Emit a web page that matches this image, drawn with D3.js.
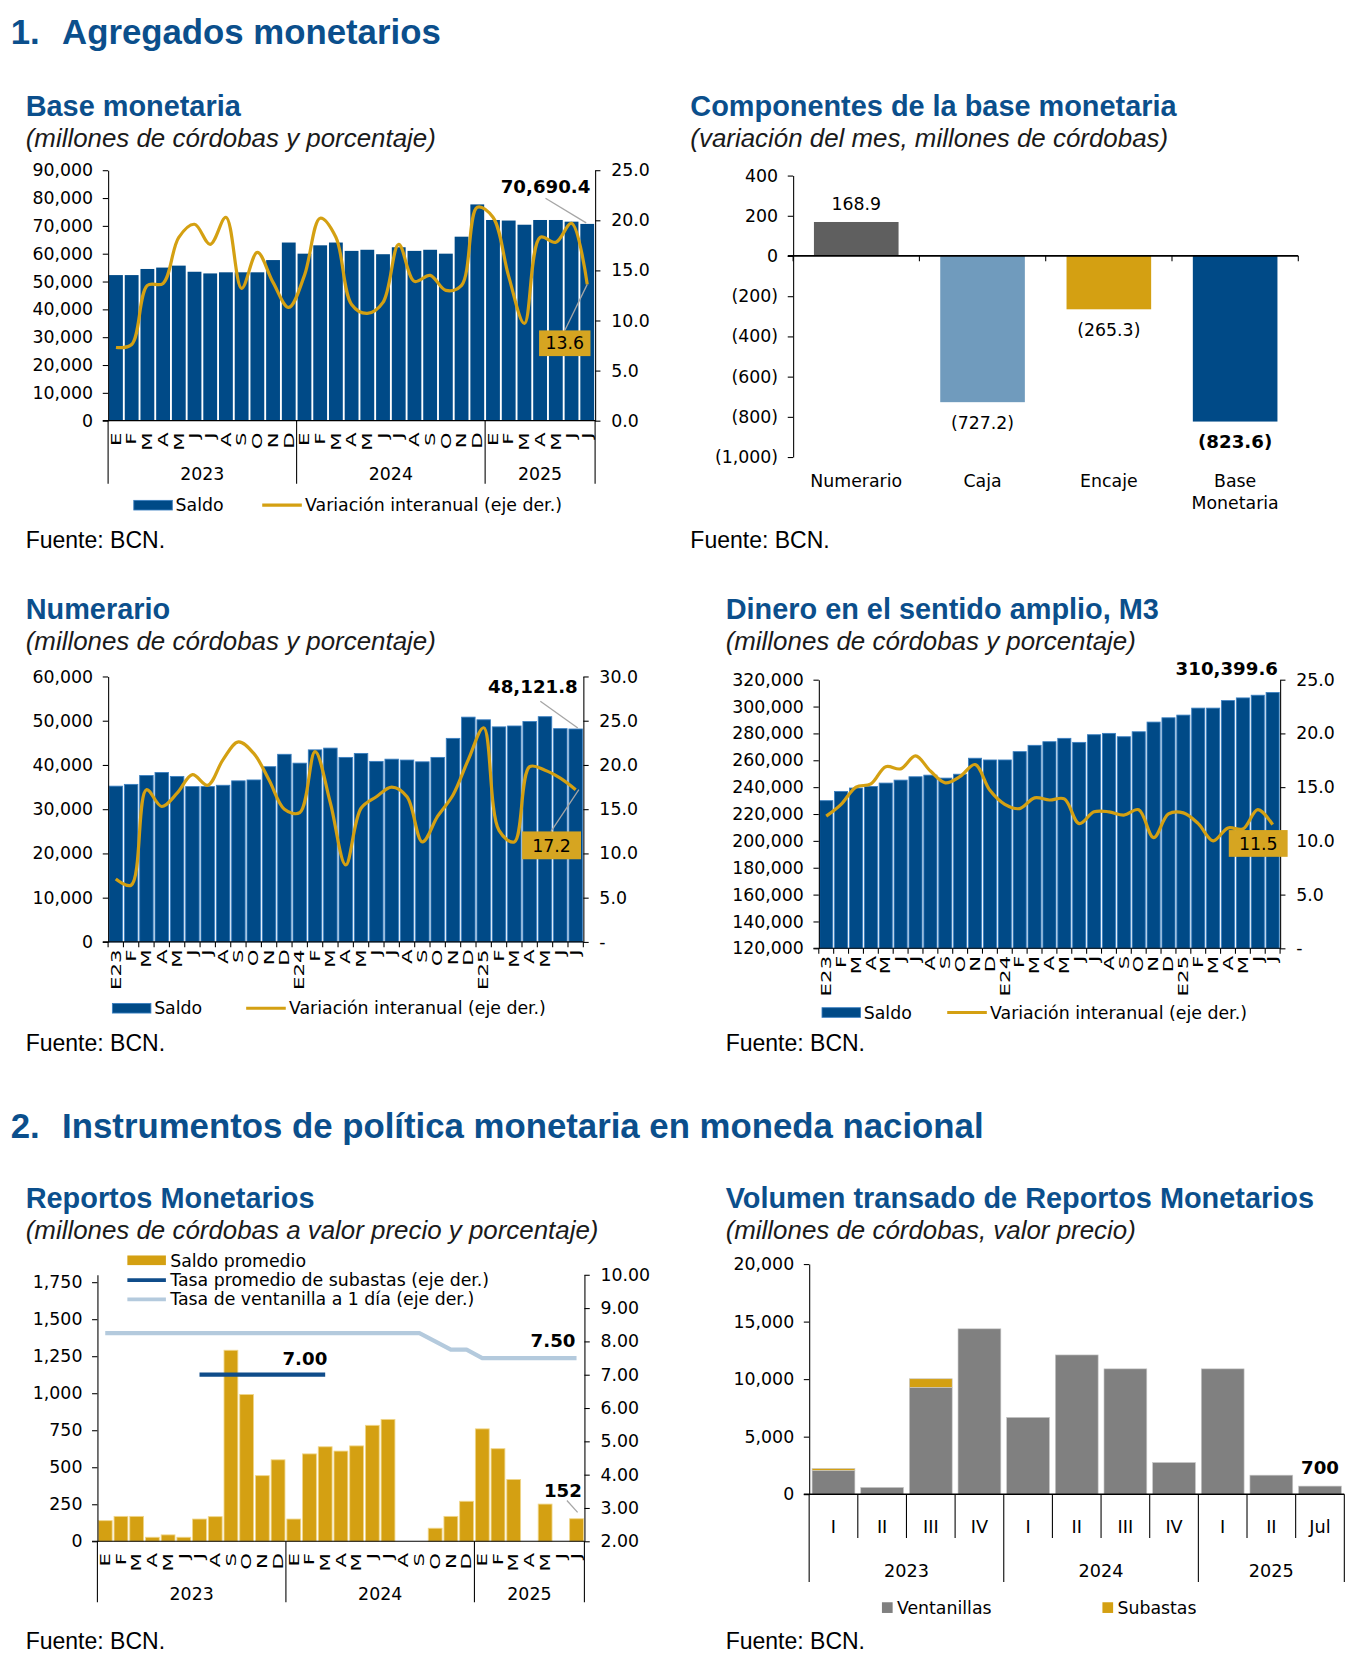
<!DOCTYPE html>
<html>
<head>
<meta charset="utf-8">
<script src="https://cdn.jsdelivr.net/npm/d3@7"></script>
<style>body{margin:0;background:#fff}</style>
</head>
<body>
<script>
// ---------- datos ----------
const meses = ["E","F","M","A","M","J","J","A","S","O","N","D"];
const anios = ["2023","2024","2025"];
const mesesPorAnio = [12, 12, 7];

// Base monetaria
const baseSaldo = [52300,52300,54500,55000,55700,53500,52900,53300,53300,53300,57700,64000,
                   60000,63000,64000,61000,61400,59800,62300,61000,61400,60000,66100,77700,
                   72100,71900,70400,72100,72100,71500,70690.4];
const baseVariacion = [7.3,7.6,13.5,13.7,18.3,19.6,17.6,20.3,13.2,16.8,13.8,11.3,
                       14.5,20.2,18.3,11.6,10.7,11.8,17.6,13.9,14.5,13.0,13.5,21.3,
                       20.3,14.4,9.7,18.3,17.8,19.7,13.6];

// Componentes de la base monetaria
const compCategorias = ["Numerario","Caja","Encaje","Base Monetaria"];
const compValores = [168.9, -727.2, -265.3, -823.6];
const compColores = ["#5f5f5f","#709bbd","#d4a012","#004a87"];

// Numerario
const numSaldo = [35200,35600,37600,38300,37400,35100,35100,35400,36400,36600,39600,42400,
                  40400,43400,43800,41700,42600,40800,41300,41100,40700,41700,46000,50800,
                  50200,48600,48800,49800,50900,48200,48121.8];
const numVariacion = [7.1,6.4,17.2,15.3,16.8,18.9,17.7,20.6,22.6,21.3,18.3,15.0,
                      14.6,21.5,15.7,8.7,15.1,16.4,17.5,16.4,11.3,14.2,16.6,20.6,
                      24.2,12.6,11.3,19.8,19.4,18.5,17.2];

// M3
const m3Saldo = [229900,236800,239300,240500,243000,245200,247700,248900,246700,249600,261500,260200,
                 260200,266400,271100,273800,276300,273300,279000,280000,277500,281200,288400,291600,
                 293600,298800,298800,304400,306400,308400,310399.6];
const m3Variacion = [12.3,13.4,15.0,15.3,16.9,16.7,17.9,16.5,15.4,16.0,17.1,14.7,
                     13.4,13.0,14.0,13.8,13.9,11.6,12.7,12.7,12.4,12.9,10.3,12.5,
                     12.6,11.6,10.0,11.2,11.1,12.9,11.5];

// Reportos monetarios
const repSaldo = [139,168,168,27,43,27,150,166,1290,991,443,550,
                  150,590,638,609,644,783,823,null,null,88,168,270,
                  759,625,417,null,251,null,152];
const repSubastas = [null,null,null,null,null,null,7.00,7.00,7.00,7.00,7.00,7.00,
                     7.00,7.00,7.00,null,null,null,null,null,null,null,null,null,
                     null,null,null,null,null,null,null];
const repVentanilla = [8.25,8.25,8.25,8.25,8.25,8.25,8.25,8.25,8.25,8.25,8.25,8.25,
                       8.25,8.25,8.25,8.25,8.25,8.25,8.25,8.25,8.25,8.00,7.75,7.75,
                       7.50,7.50,7.50,7.50,7.50,7.50,7.50];

// Volumen transado
const volCategorias = ["I","II","III","IV","I","II","III","IV","I","II","Jul"];
const volAnios = ["2023","2024","2025"];
const volPorAnio = [4, 4, 3];
const volVentanillas = [2060,585,9280,14370,6670,12100,10890,2750,10890,1650,700];
const volSubastas = [170,0,750,0,0,0,0,0,0,0,0];

// ---------- estilos ----------
const FT = "'Liberation Sans', Arial, sans-serif";
const FC = "'DejaVu Sans', Verdana, sans-serif";
const AZUL_T = "#0b4f8c";
const AZUL = "#004a87";
const ORO = "#d4a012";
const GRIS = "#808080";
const FS = 16.2; // texto de los graficos

const W = 1280, H = 1280 * 1677 / 1370;
const svg = d3.select("body").append("svg")
    .attr("width", 1370).attr("height", 1677)
    .attr("viewBox", `0 0 ${W} ${H}`)
    .attr("font-family", FC).attr("font-size", FS);

function encabezado(y, num, txt) {
    svg.append("text").attr("x", 10).attr("y", y).attr("font-family", FT).attr("font-weight", "bold")
        .attr("font-size", 32.5).attr("fill", AZUL_T).text(num);
    svg.append("text").attr("x", 58).attr("y", y).attr("font-family", FT).attr("font-weight", "bold")
        .attr("font-size", 32.5).attr("fill", AZUL_T).text(txt);
}

function titulo(x, y, t, s) {
    svg.append("text").attr("x", x).attr("y", y).attr("font-family", FT).attr("font-weight", "bold")
        .attr("font-size", 27).attr("fill", AZUL_T).text(t);
    svg.append("text").attr("x", x).attr("y", y + 29).attr("font-family", FT).attr("font-style", "italic")
        .attr("font-size", 24.2).attr("fill", "#1a1a1a").text(s);
}

function fuente(x, y) {
    svg.append("text").attr("x", x).attr("y", y).attr("font-family", FT)
        .attr("font-size", 21.5).attr("fill", "#000").text("Fuente: BCN.");
}

function estiloEje(e) {
    e.attr("font-family", FC).attr("font-size", FS);
    e.selectAll("text").attr("fill", "#000");
    e.selectAll("path, line").attr("stroke", "#000");
}

// grafico mensual de barras + lineas con dos ejes
function graficoMensual(o) {
    const g = svg.append("g");
    const n = o.barras.length;
    const x = d3.scaleBand().domain(d3.range(n)).range([o.xL, o.xR]).paddingInner(0.12).paddingOuter(0.06);
    const yL = d3.scaleLinear().domain(o.izq).range([o.yB, o.yT]);
    const yR = d3.scaleLinear().domain(o.der).range([o.yB, o.yT]);
    const cx = i => x(i) + x.bandwidth() / 2;
    const borde = i => i === 0 ? o.xL : i === n ? o.xR : x(i) - (x.step() - x.bandwidth()) / 2;

    // barras
    g.selectAll("rect.barra")
        .data(o.barras.map((v, i) => ({ v, i })).filter(d => d.v))
        .join("rect")
        .attr("class", "barra")
        .attr("x", d => x(d.i)).attr("width", x.bandwidth())
        .attr("y", d => yL(d.v)).attr("height", d => yL(o.izq[0]) - yL(d.v))
        .attr("fill", o.colorBarra)
        .attr("stroke", o.bordeBarra || "none").attr("stroke-width", 0.8);

    // ejes
    const ejeIzq = g.append("g").attr("transform", `translate(${o.xL},0)`)
        .call(d3.axisLeft(yL).tickValues(o.ticksIzq).tickFormat(o.fmtIzq).tickSize(5).tickSizeOuter(0).tickPadding(9));
    const ejeDer = g.append("g").attr("transform", `translate(${o.xR},0)`)
        .call(d3.axisRight(yR).tickValues(o.ticksDer).tickFormat(o.fmtDer).tickSize(5).tickSizeOuter(0).tickPadding(10));
    estiloEje(ejeIzq);
    estiloEje(ejeDer);
    g.append("line").attr("x1", o.xL - 5).attr("x2", o.xR).attr("y1", o.yB).attr("y2", o.yB).attr("stroke", "#000");

    // lineas
    o.lineas.forEach(l => {
        g.append("path").datum(l.datos)
            .attr("d", d3.line().defined(v => v != null).x((v, i) => cx(i)).y(v => yR(v)).curve(l.curva))
            .attr("fill", "none").attr("stroke", l.color).attr("stroke-width", l.ancho)
            .attr("stroke-linejoin", "round");
    });

    // etiquetas de meses (texto vertical, estirado como en el original)
    g.selectAll("text.mes").data(o.etiquetas).join("text")
        .attr("class", "mes")
        .attr("transform", (d, i) => `translate(${cx(i)},${o.yB + o.mesDy}) rotate(-90) scale(1.62,1)`)
        .attr("text-anchor", "end").attr("dy", "0.36em").attr("font-size", 12.3)
        .text(d => d);

    if (o.separadores) {
        const cortes = [0];
        mesesPorAnio.forEach(m => cortes.push(cortes[cortes.length - 1] + m));
        cortes.forEach(c => g.append("line")
            .attr("x1", borde(c)).attr("x2", borde(c))
            .attr("y1", o.yB).attr("y2", o.yB + o.sepLargo).attr("stroke", "#000"));
        anios.forEach((a, k) => g.append("text")
            .attr("x", (borde(cortes[k]) + borde(cortes[k + 1])) / 2)
            .attr("y", o.yB + o.anioDy).attr("text-anchor", "middle").text(a));
    } else {
        d3.range(n + 1).forEach(i => g.append("line")
            .attr("x1", borde(i)).attr("x2", borde(i))
            .attr("y1", o.yB).attr("y2", o.yB + 5).attr("stroke", "#000"));
    }

    if (o.extra) o.extra(g, { x, yL, yR, cx, n });
}

function leyendaSaldo(g, x, y, xLinea) {
    g.append("rect").attr("x", x).attr("y", y - 4.5).attr("width", 36).attr("height", 9).attr("fill", AZUL)
        .attr("stroke", "#3a7fc0").attr("stroke-width", 0.8);
    g.append("text").attr("x", x + 39).attr("y", y).attr("dy", "0.35em").text("Saldo");
    g.append("line").attr("x1", xLinea).attr("x2", xLinea + 37).attr("y1", y).attr("y2", y)
        .attr("stroke", ORO).attr("stroke-width", 3);
    g.append("text").attr("x", xLinea + 40).attr("y", y).attr("dy", "0.35em")
        .text("Variación interanual (eje der.)");
}

function caja(g, x, y, w, h, t) {
    g.append("rect").attr("x", x).attr("y", y).attr("width", w).attr("height", h).attr("fill", "#d6a521");
    g.append("text").attr("x", x + w / 2).attr("y", y + h / 2).attr("dy", "0.36em")
        .attr("text-anchor", "middle").text(t);
}

const fmtMiles = d3.format(",");
const fmtUno = d3.format(".1f");
const fmtGuion = v => v === 0 ? "-" : fmtUno(v);
const etiquetasSimples = meses.concat(meses, meses.slice(0, 7));
const etiquetasAnio = etiquetasSimples.map((m, i) => i === 0 ? "E23" : i === 12 ? "E24" : i === 24 ? "E25" : m);

// ---------- 1. Agregados monetarios ----------
encabezado(41, "1.", "Agregados monetarios");

// Base monetaria
titulo(24, 108, "Base monetaria", "(millones de córdobas y porcentaje)");
graficoMensual({
    xL: 101, xR: 556, yT: 159, yB: 393,
    barras: baseSaldo, colorBarra: AZUL,
    izq: [0, 90000], ticksIzq: d3.range(0, 90001, 10000), fmtIzq: fmtMiles,
    der: [0, 25], ticksDer: d3.range(0, 26, 5), fmtDer: fmtUno,
    lineas: [{ datos: baseVariacion, color: ORO, ancho: 3, curva: d3.curveCatmullRom.alpha(0.5) }],
    etiquetas: etiquetasSimples, mesDy: 11,
    separadores: true, sepLargo: 59, anioDy: 55,
    extra: (g, s) => {
        const i = s.n - 1;
        const xb = s.cx(i), yb = s.yL(baseSaldo[i]);
        g.append("line").attr("x1", xb - 39).attr("y1", yb - 24).attr("x2", xb - 1).attr("y2", yb - 1)
            .attr("stroke", "#a6a6a6").attr("stroke-width", 1.2);
        g.append("text").attr("x", xb + 3).attr("y", yb - 29).attr("text-anchor", "end")
            .attr("font-weight", "bold").attr("font-size", 17).text(d3.format(",.1f")(baseSaldo[i]));
        const yv = s.yR(baseVariacion[i]);
        g.append("line").attr("x1", xb - 21).attr("y1", yv + 43).attr("x2", xb).attr("y2", yv)
            .attr("stroke", "#a6a6a6").attr("stroke-width", 1.2);
        caja(g, xb - 45, yv + 43, 48, 24, fmtUno(baseVariacion[i]));
        leyendaSaldo(g, 125, 472, 245);
    }
});
fuente(24, 512);

// Componentes de la base monetaria
titulo(645, 108, "Componentes de la base monetaria", "(variación del mes, millones de córdobas)");
(function () {
    const g = svg.append("g");
    const xL = 741, xR = 1213, yT = 164, yB = 427;
    const y = d3.scaleLinear().domain([-1000, 400]).range([yB, yT]);
    const x = d3.scaleBand().domain(compCategorias).range([xL, xR]).paddingInner(0.33).paddingOuter(0.165);
    const fmt = v => v < 0 ? `(${d3.format(",")(-v)})` : d3.format(",")(v);
    const fmtV = v => v < 0 ? `(${d3.format(",.1f")(-v)})` : d3.format(",.1f")(v);

    g.selectAll("rect").data(compValores).join("rect")
        .attr("x", (d, i) => x(compCategorias[i])).attr("width", x.bandwidth())
        .attr("y", d => Math.min(y(d), y(0))).attr("height", d => Math.abs(y(d) - y(0)))
        .attr("fill", (d, i) => compColores[i]);

    const eje = g.append("g").attr("transform", `translate(${xL},0)`)
        .call(d3.axisLeft(y).tickValues(d3.range(-1000, 401, 200)).tickFormat(fmt).tickSize(5).tickSizeOuter(0).tickPadding(9));
    estiloEje(eje);
    g.append("line").attr("x1", xL - 5).attr("x2", xR).attr("y1", y(0)).attr("y2", y(0))
        .attr("stroke", "#000").attr("stroke-width", 1.6);
    d3.range(compCategorias.length + 1).forEach(k => {
        const xx = xL + k * x.step();
        g.append("line").attr("x1", xx).attr("x2", xx).attr("y1", y(0)).attr("y2", y(0) + 5).attr("stroke", "#000");
    });

    g.selectAll("text.valor").data(compValores).join("text")
        .attr("class", "valor")
        .attr("x", (d, i) => x(compCategorias[i]) + x.bandwidth() / 2)
        .attr("y", d => d >= 0 ? y(d) - 11 : y(d) + 25)
        .attr("text-anchor", "middle")
        .attr("font-weight", (d, i) => i === compCategorias.length - 1 ? "bold" : "normal")
        .attr("font-size", (d, i) => i === compCategorias.length - 1 ? 17 : FS)
        .text(fmtV);

    g.selectAll("text.cat").data(compCategorias).join("text")
        .attr("class", "cat")
        .attr("x", d => x(d) + x.bandwidth() / 2).attr("y", 455)
        .attr("text-anchor", "middle")
        .each(function (d) {
            const t = d3.select(this);
            d.split(" ").forEach((p, k) => t.append("tspan")
                .attr("x", x(d) + x.bandwidth() / 2).attr("dy", k === 0 ? 0 : 21).text(p));
        });
})();
fuente(645, 512);

// Numerario
titulo(24, 578, "Numerario", "(millones de córdobas y porcentaje)");
graficoMensual({
    xL: 101, xR: 545, yT: 632, yB: 880,
    barras: numSaldo, colorBarra: AZUL, bordeBarra: "#3a7fc0",
    izq: [0, 60000], ticksIzq: d3.range(0, 60001, 10000), fmtIzq: fmtMiles,
    der: [0, 30], ticksDer: d3.range(0, 31, 5), fmtDer: fmtGuion,
    lineas: [{ datos: numVariacion, color: ORO, ancho: 3, curva: d3.curveCatmullRom.alpha(0.5) }],
    etiquetas: etiquetasAnio, mesDy: 7,
    separadores: false,
    extra: (g, s) => {
        const i = s.n - 1;
        const xb = s.cx(i), yb = s.yL(numSaldo[i]);
        g.append("line").attr("x1", xb - 33).attr("y1", yb - 26).attr("x2", xb + 2).attr("y2", yb - 1)
            .attr("stroke", "#a6a6a6").attr("stroke-width", 1.2);
        g.append("text").attr("x", xb + 2).attr("y", yb - 34).attr("text-anchor", "end")
            .attr("font-weight", "bold").attr("font-size", 17).text(d3.format(",.1f")(numSaldo[i]));
        const yv = s.yR(numVariacion[i]);
        g.append("line").attr("x1", xb - 23).attr("y1", yv + 39).attr("x2", xb + 3).attr("y2", yv)
            .attr("stroke", "#a6a6a6").attr("stroke-width", 1.2);
        caja(g, xb - 50, yv + 39, 55, 26, fmtUno(numVariacion[i]));
        leyendaSaldo(g, 105, 942, 230);
    }
});
fuente(24, 982);

// M3
titulo(678, 578, "Dinero en el sentido amplio, M3", "(millones de córdobas y porcentaje)");
graficoMensual({
    xL: 765, xR: 1196, yT: 635, yB: 886,
    barras: m3Saldo, colorBarra: AZUL, bordeBarra: "#3a7fc0",
    izq: [120000, 320000], ticksIzq: d3.range(120000, 320001, 20000), fmtIzq: fmtMiles,
    der: [0, 25], ticksDer: d3.range(0, 26, 5), fmtDer: fmtGuion,
    lineas: [{ datos: m3Variacion, color: ORO, ancho: 3, curva: d3.curveCatmullRom.alpha(0.5) }],
    etiquetas: etiquetasAnio, mesDy: 7,
    separadores: false,
    extra: (g, s) => {
        const i = s.n - 1;
        const xb = s.cx(i), yb = s.yL(m3Saldo[i]);
        g.append("text").attr("x", xb + 5).attr("y", yb - 16).attr("text-anchor", "end")
            .attr("font-weight", "bold").attr("font-size", 17).text(d3.format(",.1f")(m3Saldo[i]));
        const yv = s.yR(m3Variacion[i]);
        caja(g, xb - 41, yv + 5, 55, 25, fmtUno(m3Variacion[i]));
        leyendaSaldo(g, 768, 946, 885);
    }
});
fuente(678, 982);

// ---------- 2. Instrumentos de politica monetaria ----------
encabezado(1063, "2.", "Instrumentos de política monetaria en moneda nacional");

// Reportos monetarios
titulo(24, 1129, "Reportos Monetarios", "(millones de córdobas a valor precio y porcentaje)");
graficoMensual({
    xL: 91, xR: 546, yT: 1191, yB: 1440,
    barras: repSaldo, colorBarra: ORO, bordeBarra: "#f0d68a",
    izq: [0, 1800], ticksIzq: d3.range(0, 1751, 250), fmtIzq: fmtMiles,
    der: [2, 10], ticksDer: d3.range(2, 10.01, 1), fmtDer: d3.format(".2f"),
    lineas: [
        { datos: repVentanilla, color: "#b4cadd", ancho: 4, curva: d3.curveLinear },
        { datos: repSubastas, color: "#0f4c8a", ancho: 4, curva: d3.curveLinear }
    ],
    etiquetas: etiquetasSimples, mesDy: 11,
    separadores: true, sepLargo: 57, anioDy: 55,
    extra: (g, s) => {
        const iS = repSubastas.map((v, i) => v != null ? i : -1).filter(i => i >= 0);
        const iSub = iS[iS.length - 1];
        g.append("text").attr("x", s.cx(iSub) + 2).attr("y", s.yR(repSubastas[iSub]) - 9)
            .attr("text-anchor", "end").attr("font-weight", "bold").attr("font-size", 17)
            .text(d3.format(".2f")(repSubastas[iSub]));
        const iV = repVentanilla.length - 1;
        g.append("text").attr("x", s.cx(iV) - 1).attr("y", s.yR(repVentanilla[iV]) - 10)
            .attr("text-anchor", "end").attr("font-weight", "bold").attr("font-size", 17)
            .text(d3.format(".2f")(repVentanilla[iV]));
        const iB = repSaldo.length - 1;
        const yb = s.yL(repSaldo[iB]);
        g.append("line").attr("x1", s.cx(iB) - 9).attr("y1", yb - 17).attr("x2", s.cx(iB) + 1).attr("y2", yb - 6)
            .attr("stroke", "#a6a6a6").attr("stroke-width", 1.2);
        g.append("text").attr("x", s.cx(iB) + 5).attr("y", yb - 20).attr("text-anchor", "end")
            .attr("font-weight", "bold").attr("font-size", 17).text(repSaldo[iB]);

        // leyenda
        const lx = 119;
        g.append("rect").attr("x", lx).attr("y", 1173).attr("width", 36).attr("height", 9).attr("fill", ORO);
        g.append("text").attr("x", lx + 40).attr("y", 1178).attr("dy", "0.35em").text("Saldo promedio");
        g.append("line").attr("x1", lx).attr("x2", lx + 36).attr("y1", 1196).attr("y2", 1196)
            .attr("stroke", "#0f4c8a").attr("stroke-width", 3.5);
        g.append("text").attr("x", lx + 40).attr("y", 1196).attr("dy", "0.35em")
            .text("Tasa promedio de subastas (eje der.)");
        g.append("line").attr("x1", lx).attr("x2", lx + 36).attr("y1", 1214).attr("y2", 1214)
            .attr("stroke", "#b4cadd").attr("stroke-width", 3.5);
        g.append("text").attr("x", lx + 40).attr("y", 1214).attr("dy", "0.35em")
            .text("Tasa de ventanilla a 1 día (eje der.)");
    }
});
fuente(24, 1541);

// Volumen transado de reportos
titulo(678, 1129, "Volumen transado de Reportos Monetarios", "(millones de córdobas, valor precio)");
(function () {
    const g = svg.append("g");
    const xL = 756, xR = 1256, yT = 1181, yB = 1396;
    const n = volCategorias.length;
    const x = d3.scaleBand().domain(d3.range(n)).range([xL, xR]).paddingInner(0.12).paddingOuter(0.06);
    const y = d3.scaleLinear().domain([0, 20000]).range([yB, yT]);
    const tabla = volVentanillas.map((v, i) => ({ i, ventanillas: v, subastas: volSubastas[i] }));
    const series = d3.stack().keys(["ventanillas", "subastas"])(tabla);
    const colores = { ventanillas: GRIS, subastas: ORO };
    const borde = i => i === 0 ? xL : i === n ? xR : x(i) - (x.step() - x.bandwidth()) / 2;

    g.selectAll("g.serie").data(series).join("g")
        .attr("class", "serie").attr("fill", s => colores[s.key])
        .selectAll("rect").data(s => s.filter(d => d[1] > d[0])).join("rect")
        .attr("x", d => x(d.data.i)).attr("width", x.bandwidth())
        .attr("y", d => y(d[1])).attr("height", d => y(d[0]) - y(d[1]))
        .attr("stroke", "#c8c8c8").attr("stroke-width", 0.6);

    const eje = g.append("g").attr("transform", `translate(${xL},0)`)
        .call(d3.axisLeft(y).tickValues(d3.range(0, 20001, 5000)).tickFormat(fmtMiles).tickSize(5).tickSizeOuter(0).tickPadding(9));
    estiloEje(eje);
    g.append("line").attr("x1", xL - 5).attr("x2", xR).attr("y1", yB).attr("y2", yB).attr("stroke", "#000").attr("stroke-width", 1.4);

    const cortes = [0];
    volPorAnio.forEach(m => cortes.push(cortes[cortes.length - 1] + m));
    d3.range(n + 1).forEach(i => g.append("line")
        .attr("x1", borde(i)).attr("x2", borde(i)).attr("y1", yB)
        .attr("y2", cortes.includes(i) ? 1478 : 1437).attr("stroke", "#000"));

    g.selectAll("text.cat").data(volCategorias).join("text")
        .attr("class", "cat")
        .attr("x", (d, i) => x(i) + x.bandwidth() / 2).attr("y", 1432)
        .attr("text-anchor", "middle").attr("font-size", 16.5).text(d => d);
    volAnios.forEach((a, k) => g.append("text")
        .attr("x", (borde(cortes[k]) + borde(cortes[k + 1])) / 2).attr("y", 1473)
        .attr("text-anchor", "middle").attr("font-size", 16.5).text(a));

    const iU = n - 1;
    g.append("text").attr("x", x(iU) + x.bandwidth() / 2).attr("y", y(volVentanillas[iU] + volSubastas[iU]) - 11)
        .attr("text-anchor", "middle").attr("font-weight", "bold").attr("font-size", 17)
        .text(fmtMiles(volVentanillas[iU] + volSubastas[iU]));

    // leyenda
    g.append("rect").attr("x", 824).attr("y", 1497).attr("width", 10).attr("height", 10).attr("fill", GRIS);
    g.append("text").attr("x", 838).attr("y", 1502).attr("dy", "0.35em").text("Ventanillas");
    g.append("rect").attr("x", 1030).attr("y", 1497).attr("width", 10).attr("height", 10).attr("fill", ORO);
    g.append("text").attr("x", 1044).attr("y", 1502).attr("dy", "0.35em").text("Subastas");
})();
fuente(678, 1541);
</script>
</body>
</html>
